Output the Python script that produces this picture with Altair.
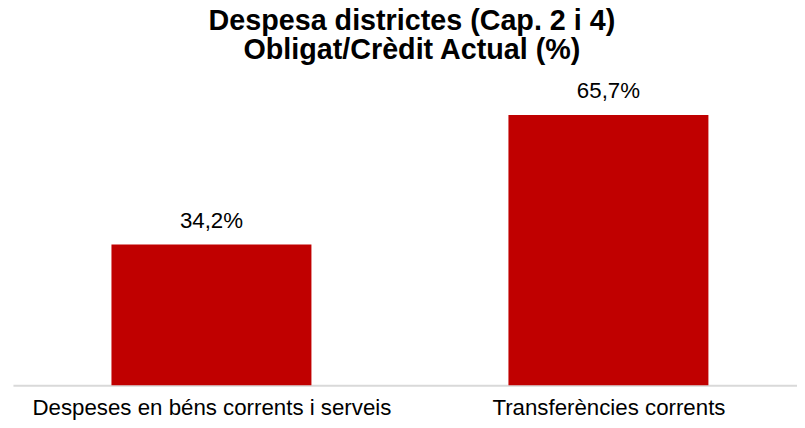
import json
import altair as alt
import pandas as pd

categories = ["Despeses en béns corrents i serveis", "Transferències corrents"]
values = [34.2, 65.7]
labels = [f"{v:.1f}".replace(".", ",") + "%" for v in values]

df = pd.DataFrame({
    "pos": list(range(len(categories))),
    "cat": categories,
    "val": values,
    "label": labels,
})

FONT = "Liberation Sans"

x = alt.X(
    "pos:Q",
    title=None,
    scale=alt.Scale(domain=[-0.5, 1.475], nice=False, zero=False, padding=0),
    axis=alt.Axis(
        values=list(range(len(categories))),
        labelExpr=f"{json.dumps(categories, ensure_ascii=False)}[datum.value]",
        labelFont=FONT,
        labelFontSize=22.5,
        labelColor="#000000",
        labelPadding=12,
        labelFlush=False,
        labelOverlap=False,
        ticks=False,
        grid=False,
        domainColor="#d9d9d9",
        domainWidth=2,
        labelLimit=500,
    ),
)
y = alt.Y("val:Q", scale=alt.Scale(domain=[0, 70], padding=0), axis=None)

bars = alt.Chart(df).mark_bar(size=202, color="#C00000").encode(x=x, y=y)
text = alt.Chart(df).mark_text(
    baseline="alphabetic", dy=-17, font=FONT, fontSize=22.5, color="#000000"
).encode(x=x, y=y, text="label:N")

chart = (
    alt.layer(bars, text)
    .properties(
        width=792,
        height=291,
        autosize=alt.AutoSizeParams(type="none"),
        padding={"left": 5, "top": 88, "right": 0, "bottom": 33},
        title=alt.TitleParams(
            text=["Despesa districtes (Cap. 2 i 4)", "Obligat/Crèdit Actual (%)"],
            font=FONT,
            fontSize=29,
            fontWeight="bold",
            color="#000000",
            anchor="middle",
            lineHeight=29.5,
            dx=7,
            offset=15,
        ),
    )
    .configure_view(stroke=None)
)

chart.save("out.html", embed_options={"renderer": "svg", "actions": False})
